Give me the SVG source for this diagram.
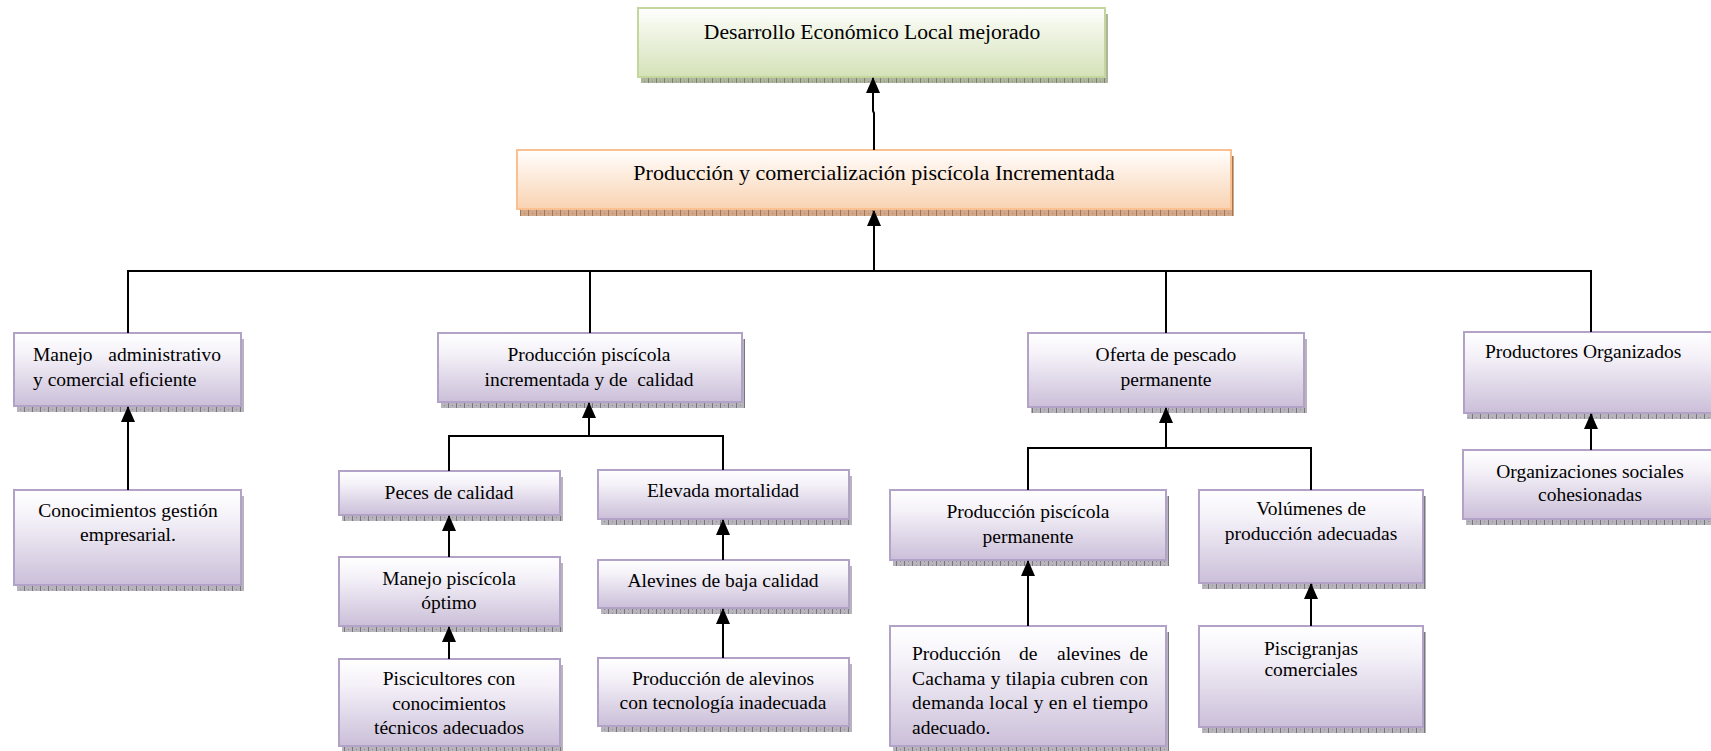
<svg xmlns="http://www.w3.org/2000/svg" width="1711" height="751" viewBox="0 0 1711 751">
<style>
.t{font-family:"Liberation Serif","Times New Roman",serif;font-size:19.5px;fill:#000}
.tt{font-family:"Liberation Serif","Times New Roman",serif;font-size:22px;fill:#000}
.c{text-anchor:middle}
.e{text-anchor:end}
.bp{fill:url(#gP);stroke:#b3a2c7;stroke-width:2}
.bg{fill:url(#gG);stroke:#c3d69b;stroke-width:2}
.bo{fill:url(#gO);stroke:#fac090;stroke-width:2}
.sp{fill:url(#hP)}
.sg{fill:url(#hG)}
.so{fill:url(#hO)}
.ln{fill:none;stroke:#000;stroke-width:2}
.ar{fill:none;stroke:#000;stroke-width:2;marker-end:url(#ah)}
</style>
<defs>
<linearGradient id="gP" x1="0" y1="0" x2="0" y2="1"><stop offset="0" stop-color="#ffffff"/><stop offset="0.3" stop-color="#f4f1f8"/><stop offset="1" stop-color="#cbbfd9"/></linearGradient>
<linearGradient id="gG" x1="0" y1="0" x2="0" y2="1"><stop offset="0" stop-color="#ffffff"/><stop offset="0.25" stop-color="#f3f7ea"/><stop offset="1" stop-color="#d4e2b8"/></linearGradient>
<linearGradient id="gO" x1="0" y1="0" x2="0" y2="1"><stop offset="0" stop-color="#ffffff"/><stop offset="0.25" stop-color="#fef3ea"/><stop offset="1" stop-color="#f9d3b2"/></linearGradient>
<pattern id="hP" width="8" height="4" patternUnits="userSpaceOnUse"><rect width="8" height="4" fill="#b8b4bc"/><rect x="0" y="0" width="1" height="4" fill="#7a7680"/><rect x="4" y="1" width="1" height="1" fill="#8c8890"/></pattern>
<pattern id="hG" width="8" height="4" patternUnits="userSpaceOnUse"><rect width="8" height="4" fill="#aeb49e"/><rect x="0" y="0" width="1" height="4" fill="#7c8270"/><rect x="4" y="1" width="1" height="1" fill="#8a9078"/></pattern>
<pattern id="hO" width="8" height="4" patternUnits="userSpaceOnUse"><rect width="8" height="4" fill="#d2a88a"/><rect x="0" y="0" width="1" height="4" fill="#a07658"/><rect x="4" y="1" width="1" height="1" fill="#b08468"/></pattern>
<marker id="ah" viewBox="0 0 16 14" refX="15" refY="7" markerWidth="16" markerHeight="14" markerUnits="userSpaceOnUse" orient="auto"><path d="M0,0 L16,7 L0,14 z" fill="#000"/></marker>
</defs>

<g id="n-desarrollo">
<rect class="sg" x="641" y="14" width="467" height="69"/>
<rect class="bg" x="638" y="8" width="467" height="69"/>
<text class="tt c" x="872" y="39" style="font-size:21.6px">Desarrollo Económico Local mejorado</text>
</g>
<g id="n-produccion-comercializacion">
<rect class="so" x="520" y="156" width="714" height="60"/>
<rect class="bo" x="517" y="150" width="714" height="59"/>
<text class="tt c" x="874" y="180">Producción y comercialización piscícola Incrementada</text>
</g>
<g id="n-manejo-admin">
<rect class="sp" x="17" y="339" width="227" height="73"/>
<rect class="bp" x="14" y="333" width="227" height="73"/>
<text class="t" x="33" y="361">Manejo</text>
<text class="t e" x="221" y="361">administrativo</text>
<text class="t" x="33" y="386">y comercial eficiente</text>
</g>
<g id="n-prod-incrementada">
<rect class="sp" x="441" y="339" width="304" height="69"/>
<rect class="bp" x="438" y="333" width="304" height="69"/>
<text class="t c" x="589" y="361">Producción piscícola</text>
<text class="t c" x="589" y="386" xml:space="preserve">incrementada y de  calidad</text>
</g>
<g id="n-oferta">
<rect class="sp" x="1031" y="339" width="276" height="74"/>
<rect class="bp" x="1028" y="333" width="276" height="74"/>
<text class="t c" x="1166" y="361">Oferta de pescado</text>
<text class="t c" x="1166" y="386">permanente</text>
</g>
<g id="n-productores">
<rect class="sp" x="1467" y="338" width="260" height="81"/>
<rect class="bp" x="1464" y="332" width="260" height="81"/>
<text class="t" x="1485" y="358">Productores Organizados</text>
</g>
<g id="n-conocimientos">
<rect class="sp" x="17" y="496" width="227" height="95"/>
<rect class="bp" x="14" y="490" width="227" height="95"/>
<text class="t c" x="128" y="517">Conocimientos gestión</text>
<text class="t c" x="128" y="541">empresarial.</text>
</g>
<g id="n-peces">
<rect class="sp" x="342" y="477" width="221" height="44"/>
<rect class="bp" x="339" y="471" width="221" height="44"/>
<text class="t c" x="449" y="499">Peces de calidad</text>
</g>
<g id="n-manejo-piscicola">
<rect class="sp" x="342" y="563" width="221" height="69"/>
<rect class="bp" x="339" y="557" width="221" height="69"/>
<text class="t c" x="449" y="585">Manejo piscícola</text>
<text class="t c" x="449" y="609">óptimo</text>
</g>
<g id="n-piscicultores">
<rect class="sp" x="342" y="665" width="221" height="87"/>
<rect class="bp" x="339" y="659" width="221" height="87"/>
<text class="t c" x="449" y="685">Piscicultores con</text>
<text class="t c" x="449" y="710">conocimientos</text>
<text class="t c" x="449" y="734">técnicos adecuados</text>
</g>
<g id="n-elevada">
<rect class="sp" x="601" y="476" width="251" height="49"/>
<rect class="bp" x="598" y="470" width="251" height="49"/>
<text class="t c" x="723" y="497">Elevada mortalidad</text>
</g>
<g id="n-alevines-baja">
<rect class="sp" x="601" y="566" width="251" height="48"/>
<rect class="bp" x="598" y="560" width="251" height="48"/>
<text class="t c" x="723" y="587">Alevines de baja calidad</text>
</g>
<g id="n-prod-alevinos">
<rect class="sp" x="601" y="664" width="251" height="68"/>
<rect class="bp" x="598" y="658" width="251" height="68"/>
<text class="t c" x="723" y="685">Producción de alevinos</text>
<text class="t c" x="723" y="709">con tecnología inadecuada</text>
</g>
<g id="n-prod-permanente">
<rect class="sp" x="893" y="496" width="276" height="70"/>
<rect class="bp" x="890" y="490" width="276" height="70"/>
<text class="t c" x="1028" y="518">Producción piscícola</text>
<text class="t c" x="1028" y="543">permanente</text>
</g>
<g id="n-volumenes">
<rect class="sp" x="1202" y="496" width="224" height="93"/>
<rect class="bp" x="1199" y="490" width="224" height="93"/>
<text class="t c" x="1311" y="515">Volúmenes de</text>
<text class="t c" x="1311" y="540">producción adecuadas</text>
</g>
<g id="n-cachama">
<rect class="sp" x="893" y="632" width="276" height="120"/>
<rect class="bp" x="890" y="626" width="276" height="120"/>
<text class="t" x="912" y="660">Producción</text>
<text class="t" x="1019" y="660">de</text>
<text class="t" x="1057" y="660">alevines</text>
<text class="t e" x="1148" y="660">de</text>
<text class="t" x="912" y="685" textLength="236" lengthAdjust="spacing">Cachama y tilapia cubren con</text>
<text class="t" x="912" y="709" textLength="236" lengthAdjust="spacing">demanda local y en el tiempo</text>
<text class="t" x="912" y="734">adecuado.</text>
</g>
<g id="n-piscigranjas">
<rect class="sp" x="1202" y="632" width="224" height="101"/>
<rect class="bp" x="1199" y="626" width="224" height="101"/>
<text class="t c" x="1311" y="655">Piscigranjas</text>
<text class="t c" x="1311" y="676">comerciales</text>
</g>
<g id="n-organizaciones">
<rect class="sp" x="1466" y="456" width="260" height="69"/>
<rect class="bp" x="1463" y="450" width="260" height="69"/>
<text class="t c" x="1590" y="478">Organizaciones sociales</text>
<text class="t c" x="1590" y="501">cohesionadas</text>
</g>

<g id="connectors">
<polyline class="ar" points="874,150 874,113 873,111 873,78"/>
<line class="ar" x1="874" y1="271" x2="874" y2="211"/>
<polyline class="ln" points="128,333 128,271 1591,271 1591,332"/>
<line class="ln" x1="590" y1="271" x2="590" y2="333"/>
<line class="ln" x1="1166" y1="271" x2="1166" y2="333"/>
<line class="ar" x1="589" y1="436" x2="589" y2="403"/>
<polyline class="ln" points="449,471 449,436 723,436 723,470"/>
<line class="ar" x1="449" y1="557" x2="449" y2="516"/>
<line class="ar" x1="449" y1="659" x2="449" y2="627"/>
<line class="ar" x1="723" y1="560" x2="723" y2="520"/>
<line class="ar" x1="723" y1="658" x2="723" y2="609"/>
<line class="ar" x1="1166" y1="448" x2="1166" y2="408"/>
<polyline class="ln" points="1028,490 1028,448 1311,448 1311,490"/>
<line class="ar" x1="1028" y1="626" x2="1028" y2="561"/>
<line class="ar" x1="1311" y1="626" x2="1311" y2="584"/>
<line class="ar" x1="128" y1="490" x2="128" y2="407"/>
<line class="ar" x1="1591" y1="450" x2="1591" y2="414"/>
</g>
</svg>
